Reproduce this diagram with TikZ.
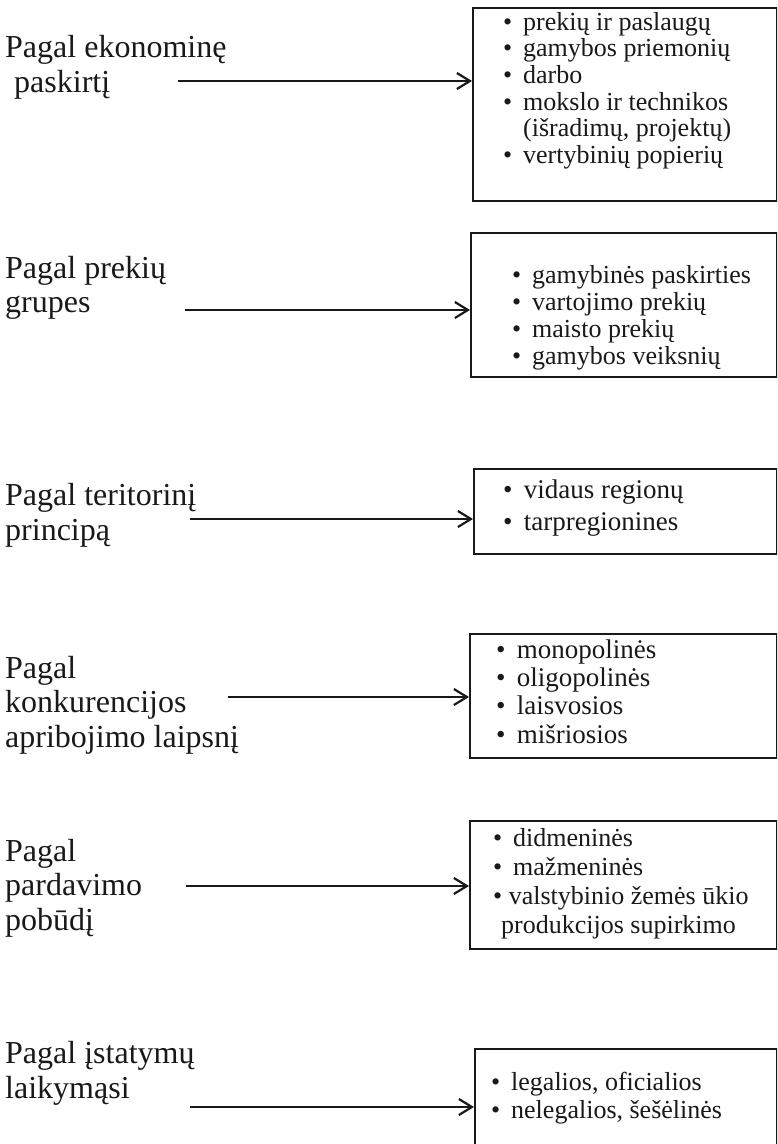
\documentclass[tikz,border=0pt]{standalone}
\usepackage{fontspec}
\setmainfont{Liberation Serif}
\usetikzlibrary{arrows.meta}
\newcommand\bl{•\hspace{0.42em}}
\begin{document}
\begin{tikzpicture}[x=1pt,y=-1pt,
  lbl/.style={anchor=base west, inner sep=0pt, align=left, font=\fontsize{32}{34.5}\selectfont, text=black!90},
  lst/.style={anchor=base west, inner sep=0pt, align=left, font=\fontsize{26}{27}\selectfont, text=black!90},
  boxs/.style={draw=black!90, line width=2.4pt, inner sep=0pt, anchor=north west},
  arr/.style={draw=black!90, line width=2.4pt, -{Straight Barb[length=13pt,width=16pt,line width=2.2pt]}}
]
\useasboundingbox (0,0) rectangle (777,1144);
\clip (0,0) rectangle (777,1144);

% boxes
\node[boxs, minimum width=304pt, minimum height=193pt] (b1) at (472,7) {};
\node[boxs, minimum width=306pt, minimum height=144pt] (b2) at (470,232) {};
\node[boxs, minimum width=303pt, minimum height=85pt] (b3) at (473,468) {};
\node[boxs, minimum width=307pt, minimum height=124pt] (b4) at (469,633) {};
\node[boxs, minimum width=307pt, minimum height=128pt] (b5) at (469,820) {};
\node[boxs, minimum width=302pt, minimum height=130pt] (b6) at (474,1048) {};

% left labels (anchor = baseline of last line)
\node[lbl] (l1) at (5,92) {Pagal ekonominę\\\hspace{9pt}paskirtį};
\node[lbl] (l2) at (5,312.5) {Pagal prekių\\grupes};
\node[lbl] (l3) at (5,540) {Pagal teritorinį\\principą};
\node[lbl] (l4) at (5,747) {Pagal\\konkurencijos\\apribojimo laipsnį};
\node[lbl] (l5) at (5,930) {Pagal\\pardavimo\\pobūdį};
\node[lbl] (l6) at (5,1098) {Pagal įstatymų\\laikymąsi};

% lists (anchor = baseline of last line)
\node[lst, font=\fontsize{26}{26.7}\selectfont] (t1) at (503,163.5) {\bl prekių ir paslaugų\\\bl gamybos priemonių\\\bl darbo\\\bl mokslo ir technikos\\\phantom{\bl}(išradimų, projektų)\\\bl vertybinių popierių};
\node[lst] (t2) at (512,364) {\bl gamybinės paskirties\\\bl vartojimo prekių\\\bl maisto prekių\\\bl gamybos veiksnių};
\node[lst, font=\fontsize{27}{32}\selectfont] (t3) at (503,530) {\bl vidaus regionų\\\bl tarpregionines};
\node[lst, font=\fontsize{27}{28.3}\selectfont] (t4) at (496,743) {\bl monopolinės\\\bl oligopolinės\\\bl laisvosios\\\bl mišriosios};
\node[lst, font=\fontsize{26}{28.7}\selectfont] (t5) at (493,933) {\bl didmeninės\\\bl mažmeninės\\•\hspace{0.25em}valstybinio žemės ūkio\\\hspace{8pt}produkcijos supirkimo};
\node[lst, font=\fontsize{26}{28}\selectfont] (t6) at (491,1118) {\bl legalios, oficialios\\\bl nelegalios, šešėlinės};

% arrows
\coordinate (s1) at (178,81);
\coordinate (s2) at (185,310);
\coordinate (s3) at (190,519);
\coordinate (s4) at (228,697);
\coordinate (s5) at (186,886);
\coordinate (s6) at (190,1107);
\draw[arr] (s1) -- (s1 -| b1.west);
\draw[arr] (s2) -- (s2 -| b2.west);
\draw[arr] (s3) -- (s3 -| b3.west);
\draw[arr] (s4) -- (s4 -| b4.west);
\draw[arr] (s5) -- (s5 -| b5.west);
\draw[arr] (s6) -- (s6 -| b6.west);
\end{tikzpicture}
\end{document}
